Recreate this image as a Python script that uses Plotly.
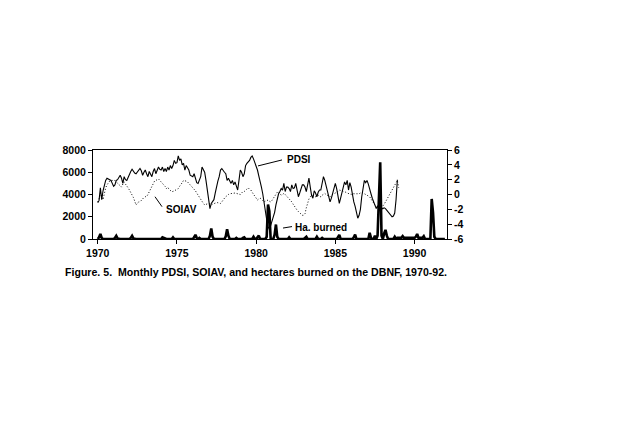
import plotly.graph_objects as go

# ---------------- data ----------------
start_year = 1970

pdsi = [
    # 1970
    -1.1, -0.8, 0.9, -0.7, 0.5, 1.4, 1.9, 2.2, 2.1, 2.0, 1.9, 1.5,
    # 1971
    1.1, 1.3, 1.9, 2.0, 2.3, 2.6, 2.2, 1.5, 2.4, 2.0, 1.9, 2.4,
    # 1972
    2.8, 3.1, 3.4, 3.1, 2.9, 2.8, 3.0, 3.3, 3.5, 3.2, 2.6, 3.0,
    # 1973
    3.3, 2.8, 2.4, 3.1, 2.6, 2.4, 3.1, 3.5, 2.8, 3.3, 3.7, 3.4,
    # 1974
    3.3, 3.7, 3.1, 3.5, 3.1, 3.7, 3.3, 3.9, 3.5, 3.9, 4.6, 4.2,
    # 1975
    4.3, 5.2, 4.6, 4.8, 4.0, 4.2, 3.3, 3.9, 3.6, 3.3, 2.6, 2.5,
    # 1976
    2.4, 2.8, 2.2, 1.6, 1.5, 1.9, 2.4, 3.7, 3.2, 3.0, 1.9, 0.6,
    # 1977
    -0.3, -1.9, -1.2, -0.9, -0.7, 0.2, 1.3, 1.8, 2.4, 3.3, 3.5, 3.2,
    # 1978
    3.0, 2.8, 1.9, 2.2, 1.8, 1.5, 1.9, 1.3, 1.7, 1.2, 0.6, 1.9,
    # 1979
    3.3, 3.0, 2.4, 2.8, 3.9, 4.2, 4.4, 4.6, 5.0, 5.2, 4.8, 4.3,
    # 1980
    3.9, 3.3, 2.5, 1.5, 1.0, 0.1, -1.3, -2.6, -3.4, -4.3, -4.7, -4.2,
    # 1981
    -3.6, -2.9, -2.4, -1.4, -0.5, 0.1, 0.4, 0.8, 0.6, 1.5, 0.4, 1.0,
    # 1982
    1.0, 0.8, 0.4, 1.3, 0.8, 0.9, 1.5, 0.6, -0.3, 0.2, 0.8, 1.3,
    # 1983
    1.3, 1.0, 0.4, 1.3, 2.2, 1.0, -0.1, -0.5, 0.5, 0.2, -0.3, 0.3,
    # 1984
    0.6, 0.6, 1.5, 2.4, 1.9, 1.2, 0.6, -0.3, -1.0, -0.5, 0.3, 1.0,
    # 1985
    1.5, 0.8, -0.5, -1.2, -0.5, 0.2, 0.8, 1.7, 1.3, 1.9, 0.6, 1.6,
    # 1986
    1.0, -0.3, -1.0, -1.6, -2.5, -3.2, -2.8, -2.0, -0.3, 1.0, 1.9, 1.6,
    # 1987
    1.9, 1.4, 0.6, 0.1, -0.5, -0.9, -1.4, -1.9, -1.6, -1.4, -1.6, -1.9,
    # 1988
    -1.9, -1.8, -1.9, -2.1, -2.3, -2.5, -2.8, -3.0, -2.9, -2.5, -0.7, 2.0,
]

soiav = [
    # 1970
    -1.0, -0.6, 0.2, 0.1, -0.7, 0.3, 0.9, 1.3, 1.6, 1.8, 1.9, 1.9,
    # 1971
    2.0, 1.9, 1.7, 1.5, 1.3, 1.1, 1.0, 1.4, 1.7, 1.4, 1.2, 0.9,
    # 1972
    0.6, 0.3, -0.1, -0.4, -0.9, -1.4, -1.2, -1.0, -1.0, -0.8, -0.5, -0.4,
    # 1973
    -0.3, -0.3, 0.0, 0.4, 0.8, 1.2, 1.5, 1.8, 1.9, 2.0, 2.1, 1.9,
    # 1974
    1.7, 1.5, 1.4, 1.1, 0.8, 1.0, 0.7, 0.5, 0.4, 0.4, 0.5, 0.6,
    # 1975
    0.6, 0.8, 1.1, 1.3, 1.6, 1.9, 1.9, 1.8, 1.7, 1.5, 1.3, 1.1,
    # 1976
    0.9, 0.8, 0.5, 0.2, -0.1, -0.4, -0.75, -1.0, -1.2, -1.4, -1.3, -1.2,
    # 1977
    -1.2, -1.3, -1.4, -1.3, -1.2, -1.2, -1.1, -1.1, -1.2, -1.2, -1.0, -0.7,
    # 1978
    -0.5, -0.3, -0.1, 0.0, 0.1, 0.15, 0.1, 0.15, 0.2, 0.15, 0.1, 0.0,
    # 1979
    0.0, 0.2, 0.4, 0.4, 0.6, 0.8, 0.9, 0.7, 0.6, 0.3, 0.0, -0.3,
    # 1980
    -0.5, -0.75, -0.6, -0.5, -0.6, -0.8, -1.0, -0.9, -0.8, -0.75, -0.9, -1.0,
    # 1981
    -0.8, -0.5, -0.3, 0.0, 0.3, 0.4, 0.2, -0.1, 0.0, 0.15, 0.0, -0.2,
    # 1982
    -0.3, -0.5, -0.8, -1.0, -1.3, -1.6, -1.9, -2.1, -2.3, -2.5, -2.6, -2.8,
    # 1983
    -2.8, -2.6, -1.8, -1.0, -0.6, -0.3, -0.2, -0.1, -0.2, -0.3, -0.2, -0.1,
    # 1984
    -0.3, -0.3, -0.1, 0.0, 0.15, 0.0, -0.1, -0.2, -0.3, -0.1, 0.0, 0.1,
    # 1985
    0.1, 0.2, 0.4, 0.6, 0.6, 0.5, 0.4, 0.4, 0.3, 0.2, 0.1, 0.1,
    # 1986
    0.0, 0.1, 0.1, 0.1, 0.0, 0.1, 0.1, 0.2, 0.3, 0.2, 0.1, 0.1,
    # 1987
    0.0, -0.2, -0.3, -0.6, -0.9, -1.2, -1.4, -1.6, -1.7, -1.9, -2.0, -1.8,
    # 1988
    -1.6, -1.3, -1.0, -0.7, -0.4, -0.1, 0.2, 0.5, 0.8, 1.2, 1.5, 1.9,
    # 1989
    0.9,
]

ha_burned = [
    # 1970
    0, 150, 450, 100, 0, 0, 0, 0, 0, 0, 0, 0,
    # 1971
    0, 100, 280, 50, 0, 0, 0, 0, 0, 0, 0, 0,
    # 1972
    0, 100, 280, 50, 0, 0, 0, 0, 0, 0, 0, 0,
    # 1973
    0, 0, 0, 0, 0, 0, 0, 0, 0, 0, 0, 0,
    # 1974
    0, 150, 80, 0, 0, 0, 0, 0, 0, 150, 0, 0,
    # 1975
    0, 0, 0, 0, 0, 0, 0, 0, 0, 0, 0, 0,
    # 1976
    0, 150, 370, 100, 0, 100, 0, 0, 0, 0, 0, 0,
    # 1977
    0, 300, 950, 200, 0, 0, 0, 0, 0, 0, 0, 0,
    # 1978
    0, 250, 880, 300, 0, 0, 0, 0, 0, 100, 0, 0,
    # 1979
    0, 0, 100, 150, 0, 0, 0, 0, 0, 0, 200, 0,
    # 1980
    0, 150, 300, 0, 0, 0, 0, 0, 200, 3100, 2500, 0,
    # 1981
    0, 0, 400, 1300, 200, 0, 0, 0, 0, 0, 0, 0,
    # 1982
    0, 150, 0, 0, 0, 0, 0, 0, 0, 0, 0, 0,
    # 1983
    0, 100, 200, 0, 0, 0, 0, 0, 0, 0, 200, 0,
    # 1984
    0, 0, 100, 0, 0, 0, 0, 0, 0, 0, 0, 0,
    # 1985
    0, 0, 150, 370, 0, 0, 0, 0, 0, 0, 0, 0,
    # 1986
    0, 0, 150, 400, 0, 0, 0, 0, 0, 0, 0, 0,
    # 1987
    0, 0, 560, 100, 0, 0, 300, 0, 300, 4000, 6900, 300,
    # 1988
    0, 500, 820, 300, 0, 0, 0, 0, 0, 200, 0, 100,
    # 1989
    100, 100, 100, 250, 100, 100, 100, 100, 100, 100, 100, 100,
    # 1990
    100, 200, 450, 100, 100, 100, 100, 250, 0, 0, 0, 0,
    # 1991
    0, 3600, 2400, 200, 0, 0, 0, 0, 0, 0, 0, 0,
]

x_ticks = [1970, 1975, 1980, 1985, 1990]
left_ticks = [0, 2000, 4000, 6000, 8000]
right_ticks = [-6, -4, -2, 0, 2, 4, 6]
right_tick_text = ["-6", "-4", "-2", "0", "2", "4", "6"]

caption = "Figure. 5.  Monthly PDSI, SOIAV, and hectares burned on the DBNF, 1970-92."


def months(n):
    return [start_year + i / 12 for i in range(n)]


# ---------------- figure ----------------
OFF = 8  # page body margin
W, H = 640 - OFF, 439 - OFF
L, R, T, B = 93 - OFF, 447 - OFF, 150 - OFF, 239.5 - OFF
FONT = "Arial, Liberation Sans, sans-serif"

fig = go.Figure()

fig.add_trace(go.Scatter(
    x=months(len(ha_burned)), y=ha_burned, mode="lines",
    line=dict(color="black", width=2.6), yaxis="y", name="Ha. burned",
))
fig.add_trace(go.Scatter(
    x=months(len(soiav)), y=soiav, mode="lines",
    line=dict(color="black", width=1, dash="1px,2px"), yaxis="y2", name="SOIAV",
))
fig.add_trace(go.Scatter(
    x=months(len(pdsi)), y=pdsi, mode="lines",
    line=dict(color="black", width=1.1), yaxis="y2", name="PDSI",
))

tickfont = dict(family=FONT, size=10.5, color="black", weight="bold")

fig.update_layout(
    width=W, height=H,
    margin=dict(l=L, r=W - R, t=T, b=H - B, pad=0),
    paper_bgcolor="white", plot_bgcolor="white",
    showlegend=False,
    xaxis=dict(
        range=[1969.7, 1992.05], tickvals=x_ticks, ticktext=[str(v) for v in x_ticks],
        ticks="outside", ticklen=4, tickwidth=1, tickcolor="black",
        showline=True, linecolor="black", linewidth=1, mirror=True,
        showgrid=False, zeroline=False, tickfont=tickfont,
    ),
    yaxis=dict(
        range=[0, 8000], tickvals=left_ticks, ticktext=[str(v) for v in left_ticks],
        ticks="outside", ticklen=4, tickwidth=1, tickcolor="black",
        showline=True, linecolor="black", linewidth=1,
        showgrid=False, zeroline=False, tickfont=tickfont,
    ),
    yaxis2=dict(
        range=[-6, 6], overlaying="y", side="right",
        tickvals=right_ticks, ticktext=right_tick_text,
        ticks="outside", ticklen=4, tickwidth=1, tickcolor="black",
        showline=True, linecolor="black", linewidth=1,
        showgrid=False, zeroline=False, tickfont=tickfont,
    ),
)


def px(xp):
    return (xp - OFF - L) / (R - L)


def py(yp):
    return (B - (yp - OFF)) / (B - T)


labfont = dict(family=FONT, size=10, color="black", weight="bold")

# leader lines
for (x0, y0, x1, y1) in [(258, 166, 282, 160), (155, 197, 162, 207), (283, 228.5, 292, 227)]:
    fig.add_shape(type="line", xref="paper", yref="paper",
                  x0=px(x0), y0=py(y0), x1=px(x1), y1=py(y1),
                  line=dict(color="black", width=1))

for text, xp, yp in [("PDSI", 285, 160), ("SOIAV", 164, 210), ("Ha. burned", 293, 227.5)]:
    fig.add_annotation(text=text, xref="paper", yref="paper", x=px(xp), y=py(yp),
                       xanchor="left", yanchor="middle", showarrow=False, font=labfont)

fig.add_annotation(text=caption, xref="paper", yref="paper", x=px(63), y=py(273),
                   xanchor="left", yanchor="middle", showarrow=False,
                   font=dict(family=FONT, size=10.6, color="black", weight="bold"))

fig.write_html("out.html")
